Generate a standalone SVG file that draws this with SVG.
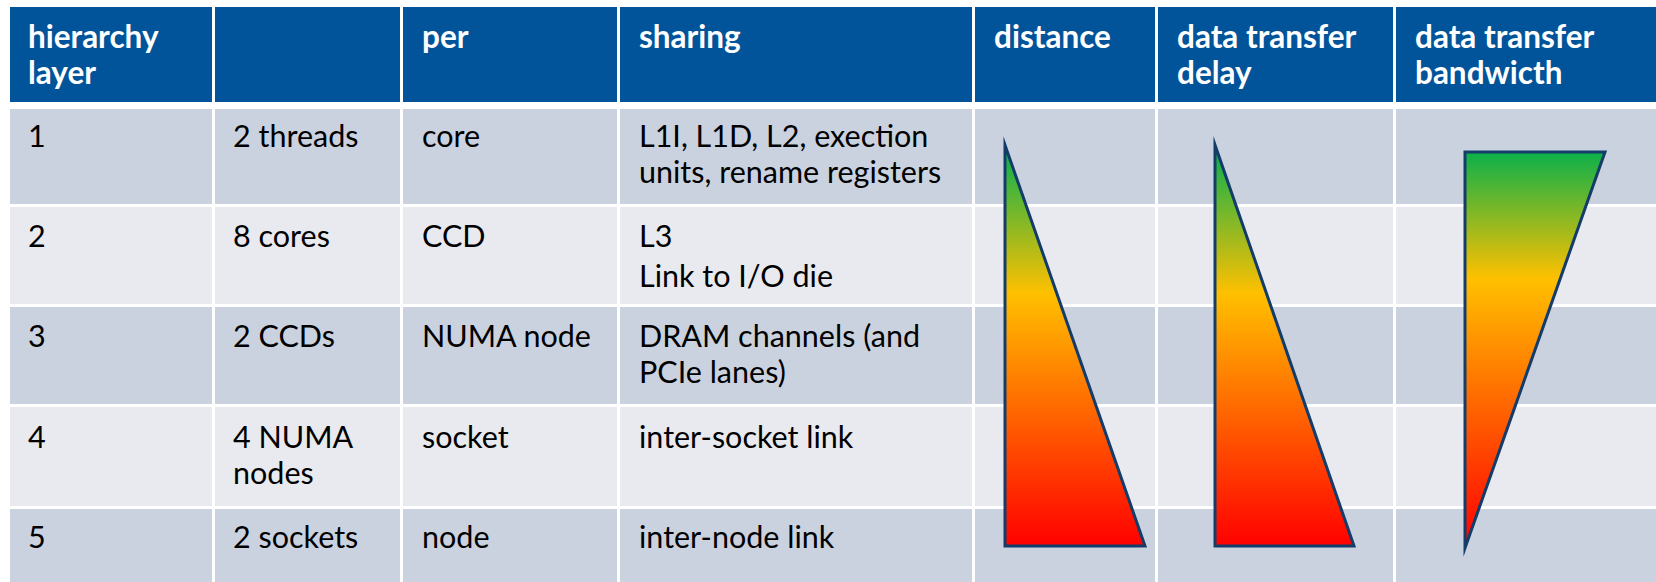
<svg xmlns="http://www.w3.org/2000/svg" width="1656" height="582" viewBox="0 0 1656 582">
  <style>
    .hdr { fill: #02549A; }
    .dark { fill: #CBD2DF; }
    .light { fill: #E8EAEF; }
    .sep { fill: #FFFFFF; }
    .ht { font-family: Lato, "Liberation Sans", sans-serif; font-weight: bold; font-size: 31.5px; fill: #FFFFFF; }
    .bt { font-family: Lato, "Liberation Sans", sans-serif; font-size: 30.5px; fill: #000000; }
    .tri { stroke: #143C69; stroke-width: 3; stroke-linejoin: miter; stroke-miterlimit: 20; }
  </style>
  <defs>
    <linearGradient id="gDown" x1="0" y1="0" x2="0" y2="1">
      <stop offset="0" stop-color="#00B050"/>
      <stop offset="0.37" stop-color="#FFC000"/>
      <stop offset="1" stop-color="#FF0000"/>
    </linearGradient>
    <linearGradient id="gBw" x1="0" y1="0" x2="0" y2="1">
      <stop offset="0" stop-color="#0BB04A"/>
      <stop offset="0.32" stop-color="#FFC000"/>
      <stop offset="1" stop-color="#FF0000"/>
    </linearGradient>
  </defs>
  <rect x="0" y="0" width="1656" height="582" fill="#FFFFFF"/>

  <g id="row-header">
    <rect class="hdr" x="10" y="7" width="1646" height="95"/>
    <text class="ht" x="28" y="48">hierarchy</text>
    <text class="ht" x="28" y="84">layer</text>
    <text class="ht" x="422" y="48">per</text>
    <text class="ht" x="639" y="48">sharing</text>
    <text class="ht" x="994" y="48">distance</text>
    <text class="ht" x="1177" y="48">data transfer</text>
    <text class="ht" x="1177" y="84">delay</text>
    <text class="ht" x="1415" y="48">data transfer</text>
    <text class="ht" x="1415" y="84">bandwicth</text>
  </g>

  <g id="row-1">
    <rect class="dark" x="10" y="109" width="1646" height="95"/>
    <text class="bt" x="28" y="147">1</text>
    <text class="bt" x="233" y="147">2 threads</text>
    <text class="bt" x="422" y="147">core</text>
    <text class="bt" x="639" y="147">L1I, L1D, L2, exection</text>
    <text class="bt" x="639" y="183">units, rename registers</text>
  </g>

  <g id="row-2">
    <rect class="light" x="10" y="207" width="1646" height="97"/>
    <text class="bt" x="28" y="247">2</text>
    <text class="bt" x="233" y="247">8 cores</text>
    <text class="bt" x="422" y="247">CCD</text>
    <text class="bt" x="639" y="247">L3</text>
    <text class="bt" x="639" y="287">Link to I/O die</text>
  </g>

  <g id="row-3">
    <rect class="dark" x="10" y="307" width="1646" height="97"/>
    <text class="bt" x="28" y="347">3</text>
    <text class="bt" x="233" y="347">2 CCDs</text>
    <text class="bt" x="422" y="347">NUMA node</text>
    <text class="bt" x="639" y="347">DRAM channels (and</text>
    <text class="bt" x="639" y="383">PCIe lanes)</text>
  </g>

  <g id="row-4">
    <rect class="light" x="10" y="407" width="1646" height="99"/>
    <text class="bt" x="28" y="448">4</text>
    <text class="bt" x="233" y="448">4 NUMA</text>
    <text class="bt" x="233" y="484">nodes</text>
    <text class="bt" x="422" y="448">socket</text>
    <text class="bt" x="639" y="448">inter-socket link</text>
  </g>

  <g id="row-5">
    <rect class="dark" x="10" y="509" width="1646" height="73"/>
    <text class="bt" x="28" y="548">5</text>
    <text class="bt" x="233" y="548">2 sockets</text>
    <text class="bt" x="422" y="548">node</text>
    <text class="bt" x="639" y="548">inter-node link</text>
  </g>

  <g id="column-separators">
    <rect class="sep" x="212" y="7" width="3" height="575"/>
    <rect class="sep" x="400" y="7" width="3" height="575"/>
    <rect class="sep" x="617" y="7" width="3" height="575"/>
    <rect class="sep" x="972" y="7" width="3" height="575"/>
    <rect class="sep" x="1155" y="7" width="3" height="575"/>
    <rect class="sep" x="1393" y="7" width="3" height="575"/>
  </g>

  <g id="distance-wedge">
    <path class="tri" fill="url(#gDown)" d="M1005,145 L1005,546 L1145,546 Z"/>
  </g>
  <g id="delay-wedge">
    <path class="tri" fill="url(#gDown)" d="M1215,145 L1215,546 L1354,546 Z"/>
  </g>
  <g id="bandwidth-wedge">
    <path class="tri" fill="url(#gBw)" d="M1465,152 L1605,152 L1465,548 Z"/>
  </g>
</svg>
